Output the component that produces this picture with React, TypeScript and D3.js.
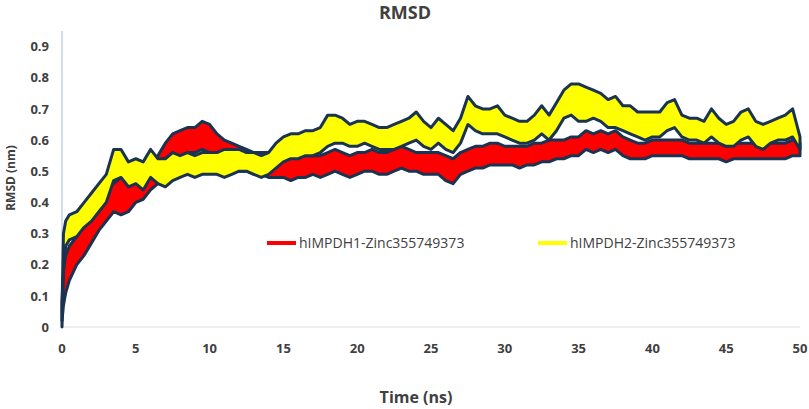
import * as d3 from 'd3'

// sampled time points (ns)
const times = [
  0, 0.1, 0.25, 0.5, 1, 1.5, 2, 2.5, 3, 3.5, 4, 4.5, 5, 5.5, 6, 6.5, 7, 7.5, 8, 8.5, 9, 9.5, 10,
  10.5, 11, 11.5, 12, 12.5, 13, 13.5, 14, 14.5, 15, 15.5, 16, 16.5, 17, 17.5, 18, 18.5, 19, 19.5,
  20, 20.5, 21, 21.5, 22, 22.5, 23, 23.5, 24, 24.5, 25, 25.5, 26, 26.5, 27, 27.5, 28, 28.5, 29,
  29.5, 30, 30.5, 31, 31.5, 32, 32.5, 33, 33.5, 34, 34.5, 35, 35.5, 36, 36.5, 37, 37.5, 38, 38.5,
  39, 39.5, 40, 40.5, 41, 41.5, 42, 42.5, 43, 43.5, 44, 44.5, 45, 45.5, 46, 46.5, 47, 47.5, 48,
  48.5, 49, 49.5, 50,
]

// hIMPDH1 band (lower / upper envelope of the fluctuating trace)
const imp1Low = [
  0.02, 0.07, 0.11, 0.15, 0.2, 0.23, 0.27, 0.31, 0.34, 0.37, 0.36, 0.37, 0.4, 0.41, 0.44, 0.46, 0.5,
  0.53, 0.55, 0.56, 0.56, 0.57, 0.56, 0.54, 0.52, 0.52, 0.5, 0.5, 0.49, 0.49, 0.48, 0.48, 0.48, 0.47,
  0.48, 0.48, 0.49, 0.48, 0.49, 0.5, 0.49, 0.48, 0.49, 0.5, 0.5, 0.49, 0.49, 0.5, 0.51, 0.5, 0.5,
  0.49, 0.49, 0.49, 0.47, 0.46, 0.49, 0.5, 0.51, 0.51, 0.52, 0.52, 0.52, 0.52, 0.51, 0.52, 0.52,
  0.53, 0.53, 0.54, 0.54, 0.55, 0.55, 0.57, 0.56, 0.57, 0.56, 0.57, 0.55, 0.54, 0.54, 0.54, 0.55,
  0.55, 0.55, 0.55, 0.55, 0.54, 0.54, 0.54, 0.54, 0.54, 0.53, 0.54, 0.54, 0.54, 0.54, 0.54, 0.54,
  0.54, 0.54, 0.55, 0.55,
]
const imp1High = [
  0.08, 0.18, 0.23, 0.26, 0.29, 0.33, 0.37, 0.4, 0.43, 0.46, 0.48, 0.48, 0.49, 0.48, 0.52, 0.55,
  0.59, 0.62, 0.63, 0.64, 0.64, 0.66, 0.65, 0.62, 0.6, 0.59, 0.58, 0.57, 0.56, 0.56, 0.56, 0.55,
  0.55, 0.55, 0.55, 0.55, 0.55, 0.55, 0.56, 0.57, 0.56, 0.55, 0.56, 0.56, 0.57, 0.56, 0.56, 0.57,
  0.58, 0.57, 0.56, 0.56, 0.56, 0.56, 0.55, 0.54, 0.56, 0.57, 0.58, 0.58, 0.59, 0.59, 0.58, 0.58,
  0.58, 0.58, 0.59, 0.59, 0.6, 0.6, 0.6, 0.61, 0.61, 0.63, 0.62, 0.63, 0.62, 0.63, 0.61, 0.6, 0.59,
  0.59, 0.6, 0.6, 0.6, 0.6, 0.6, 0.59, 0.59, 0.59, 0.59, 0.59, 0.58, 0.59, 0.59, 0.59, 0.59, 0.58,
  0.59, 0.59, 0.59, 0.6, 0.59,
]

// hIMPDH2 band
const imp2Low = [
  0.0, 0.18, 0.26, 0.28, 0.29, 0.32, 0.34, 0.37, 0.4, 0.47, 0.48, 0.45, 0.46, 0.44, 0.48, 0.46,
  0.45, 0.47, 0.48, 0.49, 0.48, 0.49, 0.49, 0.49, 0.48, 0.49, 0.5, 0.5, 0.49, 0.48, 0.49, 0.51,
  0.53, 0.54, 0.54, 0.55, 0.55, 0.56, 0.58, 0.59, 0.59, 0.58, 0.58, 0.59, 0.58, 0.57, 0.57, 0.57,
  0.58, 0.59, 0.6, 0.58, 0.57, 0.59, 0.57, 0.56, 0.59, 0.65, 0.63, 0.62, 0.62, 0.62, 0.61, 0.6,
  0.59, 0.59, 0.6, 0.62, 0.6, 0.63, 0.67, 0.68, 0.66, 0.66, 0.67, 0.66, 0.64, 0.64, 0.63, 0.62,
  0.61, 0.6, 0.61, 0.61, 0.63, 0.64, 0.61, 0.6, 0.6, 0.59, 0.61, 0.59, 0.58, 0.58, 0.6, 0.61, 0.58,
  0.57, 0.59, 0.6, 0.6, 0.61, 0.57,
]
const imp2High = [
  0.06, 0.3, 0.34, 0.36, 0.37, 0.4, 0.43, 0.46, 0.49, 0.57, 0.57, 0.53, 0.54, 0.53, 0.57, 0.54,
  0.54, 0.56, 0.55, 0.56, 0.55, 0.56, 0.56, 0.56, 0.57, 0.57, 0.57, 0.56, 0.56, 0.55, 0.56, 0.59,
  0.61, 0.62, 0.62, 0.63, 0.63, 0.64, 0.68, 0.68, 0.67, 0.65, 0.66, 0.66, 0.65, 0.64, 0.64, 0.65,
  0.66, 0.67, 0.69, 0.66, 0.64, 0.67, 0.65, 0.63, 0.67, 0.74, 0.71, 0.7, 0.7, 0.71, 0.68, 0.67,
  0.66, 0.66, 0.68, 0.71, 0.68, 0.72, 0.76, 0.78, 0.78, 0.77, 0.76, 0.75, 0.73, 0.74, 0.71, 0.71,
  0.69, 0.69, 0.69, 0.69, 0.72, 0.73, 0.68, 0.67, 0.67, 0.66, 0.7, 0.67, 0.65, 0.66, 0.69, 0.7,
  0.66, 0.65, 0.66, 0.67, 0.68, 0.7, 0.61,
]

const xTicks = [0, 5, 10, 15, 20, 25, 30, 35, 40, 45, 50]
const yTicks = [0, 0.1, 0.2, 0.3, 0.4, 0.5, 0.6, 0.7, 0.8, 0.9]

const series = [
  { name: 'hIMPDH1-Zinc355749373', color: '#ff0000', low: imp1Low, high: imp1High },
  { name: 'hIMPDH2-Zinc355749373', color: '#ffff00', low: imp2Low, high: imp2High },
]

const width = 809
const height = 409
const margin = { top: 31, right: 9, bottom: 82, left: 62 }
const font = "'Open Sans', 'DejaVu Sans', sans-serif"
const labelColor = '#404040'
const outline = '#1a3350'

export default function App() {
  const x = d3.scaleLinear().domain([0, 50]).range([margin.left, width - margin.right])
  const y = d3.scaleLinear().domain([0, 0.95]).range([height - margin.bottom, margin.top])
  const legendY = 243
  const legendX = [267, 538]

  return (
    <div style={{ position: 'absolute', left: 0, top: 0 }}>
      <svg width={width} height={height} viewBox={`0 0 ${width} ${height}`} style={{ display: 'block', background: '#fff' }}>
        <text x={405} y={19} textAnchor="middle" fontFamily={font} fontSize="18" fontWeight="700" fill={labelColor}>
          RMSD
        </text>

        {yTicks.map((tick) => (
          <text
            key={tick}
            x={margin.left - 13}
            y={y(tick)}
            dy="0.36em"
            textAnchor="end"
            fontFamily={font}
            fontSize="13"
            fontWeight="700"
            fill={labelColor}
          >
            {tick}
          </text>
        ))}

        {xTicks.map((tick) => (
          <text
            key={tick}
            x={x(tick)}
            y={353}
            textAnchor="middle"
            fontFamily={font}
            fontSize="13"
            fontWeight="700"
            fill={labelColor}
          >
            {tick}
          </text>
        ))}

        <line x1={x(0)} x2={x(50)} y1={y(0)} y2={y(0)} stroke="#d9dde6" strokeWidth="1.2" />
        <line x1={x(0)} x2={x(0)} y1={y(0)} y2={margin.top} stroke="#b8c8dc" strokeWidth="1.2" />

        {series.map((entry) => {
          const area = d3
            .area<number>()
            .x((_, i) => x(times[i]))
            .y0((_, i) => y(entry.low[i]))
            .y1((_, i) => y(entry.high[i]))
            .curve(d3.curveLinear)
          return (
            <path
              key={entry.name}
              d={area(times) ?? ''}
              fill={entry.color}
              stroke={outline}
              strokeWidth="3"
              strokeLinejoin="round"
            />
          )
        })}

        {series.map((entry, i) => (
          <g key={entry.name} transform={`translate(${legendX[i]},${legendY})`}>
            <line x1={0} x2={29} y1={0} y2={0} stroke={entry.color} strokeWidth="4" />
            <text x={32} y={0} dy="0.36em" fontFamily={font} fontSize="14" fill={labelColor}>
              {entry.name}
            </text>
          </g>
        ))}

        <text
          transform={`translate(15,${178}) rotate(-90)`}
          textAnchor="middle"
          fontFamily={font}
          fontSize="12"
          fontWeight="700"
          fill={labelColor}
        >
          RMSD (nm)
        </text>
        <text x={416} y={403} textAnchor="middle" fontFamily={font} fontSize="16" fontWeight="700" fill={labelColor}>
          Time (ns)
        </text>
      </svg>
    </div>
  )
}
